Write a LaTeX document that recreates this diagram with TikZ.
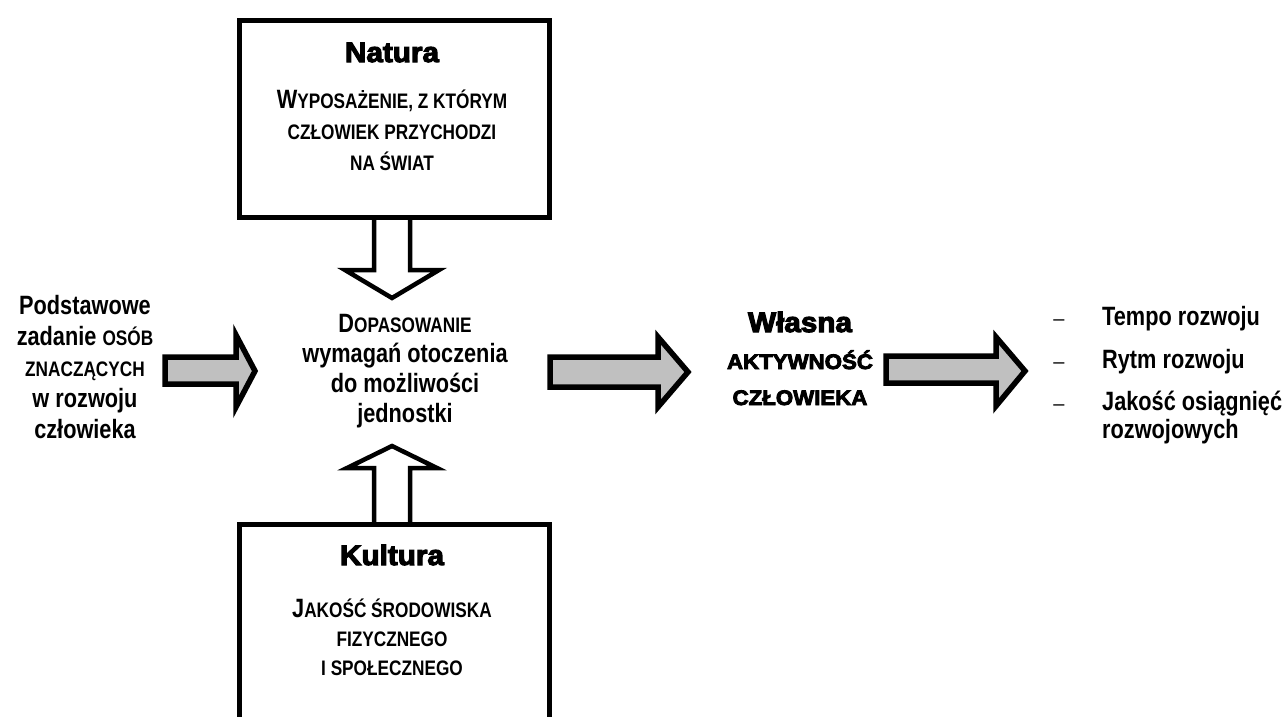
\documentclass[tikz,border=0pt]{standalone}
\usepackage{fontspec}
\usetikzlibrary{calc}
\setmainfont{Liberation Sans}
\newfontfamily\nb[FakeStretch=0.82]{Liberation Sans Bold}
\newfontfamily\hv[FakeBold=4,FakeStretch=1.06]{Liberation Sans Bold}
\newfontfamily\plainsans{Liberation Sans}
% small capitals imitated by a smaller size of the same face
\newcommand\smc[1]{{\fontsize{21}{21}\selectfont #1}}
\definecolor{arrowgray}{HTML}{C0C0C0}
\begin{document}
\begin{tikzpicture}[x=1pt,y=-1pt,
  frame/.style={draw, line width=5pt, inner sep=0pt},
  hollow/.style={draw, fill=white, line width=4.5pt, miter limit=10},
  block/.style={draw, fill=arrowgray, line width=5.5pt, miter limit=10},
  txt/.style={font=\nb\fontsize{26.5}{31}\selectfont, align=center, inner sep=0pt},
  heavy/.style={font=\hv\fontsize{28}{32}\selectfont, inner sep=0pt},
  heavysmall/.style={font=\hv\fontsize{21}{36}\selectfont, align=center, inner sep=0pt},
  item/.style={font=\nb\fontsize{26.5}{28}\selectfont, align=left, inner sep=0pt, anchor=base west},
  dashmark/.style={font=\plainsans\fontsize{20}{20}\selectfont, inner sep=0pt, anchor=base}]
\clip (0,0) rectangle (1286,716);
\fill[white] (0,0) rectangle (1286,716);

% hollow arrows between the two boxes and the centre text
\coordinate (natbot) at (392,215);
\coordinate (kulttop) at (392,522);
\draw[hollow] ($(natbot)+(-18,0)$) -- ++(0,55) -- ++(-29,0) -- ($(natbot)+(0,83)$)
  -- ($(natbot)+(47,55)$) -- ++(-29,0) -- ++(0,-55);
\draw[hollow] ($(kulttop)+(-18,0)$) -- ++(0,-54) -- ++(-27,0) -- ($(kulttop)+(0,-76)$)
  -- ($(kulttop)+(45,-54)$) -- ++(-27,0) -- ++(0,54);

% the two boxes
\node[frame, minimum width=310pt, minimum height=197pt, anchor=north west] (natura) at (237,18) {};
\node[frame, minimum width=310pt, minimum height=240pt, anchor=north west] (kultura) at (237,522) {};

% multi-line texts are placed by the baseline of their last line
\node[heavy, anchor=base] (natTitle) at (392,62) {Natura};
\node[txt, anchor=base] (natBody) at (392,170)
  {W\smc{YPOSAŻENIE, Z KTÓRYM}\\ \smc{CZŁOWIEK PRZYCHODZI}\\ \smc{NA ŚWIAT}};

\node[heavy, anchor=base] (kulTitle) at (392,565) {Kultura};
\node[txt, anchor=base, font=\nb\fontsize{26.5}{29}\selectfont] (kulBody) at (392,675)
  {J\smc{AKOŚĆ ŚRODOWISKA}\\ \smc{FIZYCZNEGO}\\ \smc{I SPOŁECZNEGO}};

% texts of the central row
\node[txt, anchor=base] (task) at (85,438)
  {Podstawowe\\ zadanie \smc{OSÓB}\\ \smc{ZNACZĄCYCH}\\ w rozwoju\\ człowieka};
\node[txt, anchor=base, font=\nb\fontsize{26.5}{30}\selectfont] (fit) at (405,422)
  {D\smc{OPASOWANIE}\\ wymagań otoczenia\\ do możliwości\\ jednostki};
\node[heavy, anchor=base] (own) at (800,332) {Własna};
\node[heavysmall, anchor=base] (activity) at (800,405) {AKTYWNOŚĆ\\ CZŁOWIEKA};

% list of outcomes
\node[dashmark] (d1) at (1059,325) {–};
\node[dashmark] (d2) at (1059,368) {–};
\node[dashmark] (d3) at (1059,410) {–};
\node[item] (i1) at (1102,325) {Tempo rozwoju};
\node[item] (i2) at (1102,368) {Rytm rozwoju};
\node[item] (i3) at (1102,438) {Jakość osiągnięć\\ rozwojowych};

% grey block arrows
\draw[block] (165,357) -- (236,357) -- (236,335) -- (255,371) -- (236,407) -- (236,384) -- (165,384) -- cycle;
\draw[block] (550,357) -- (658,357) -- (658,337) -- (688,372) -- (658,407) -- (658,387) -- (550,387) -- cycle;
\draw[block] (886,356) -- (996,356) -- (996,337) -- (1025,371) -- (996,406) -- (996,383) -- (886,383) -- cycle;
\end{tikzpicture}
\end{document}
